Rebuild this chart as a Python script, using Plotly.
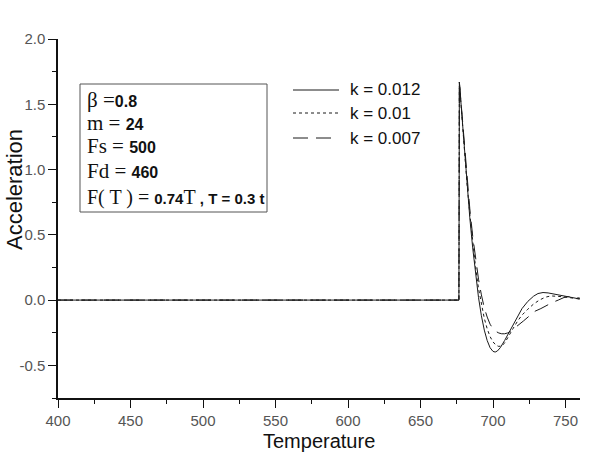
import plotly.graph_objects as go

# ---- data ----
t_k012 = [400, 676.5, 676.8, 678, 680, 682, 684, 686, 688, 690, 692, 694, 696, 698, 700, 701.5, 703, 705, 708, 711, 714, 717, 720, 724, 728, 731, 734.5, 738, 742, 746, 750, 755, 760]
a_k012 = [0, 0, 1.67, 1.49, 1.17, 0.88, 0.63, 0.40, 0.19, 0.02, -0.12, -0.23, -0.31, -0.365, -0.393, -0.398, -0.39, -0.365, -0.31, -0.25, -0.185, -0.12, -0.065, -0.01, 0.03, 0.05, 0.058, 0.055, 0.046, 0.037, 0.028, 0.017, 0.008]

t_k010 = [400, 676.5, 676.8, 678, 680, 682, 684, 686, 688, 690, 692, 694, 696, 698, 700, 702, 704, 706, 708, 710, 712, 714, 717, 720, 724, 728, 732, 736, 740, 744, 748, 752, 756, 760]
a_k010 = [0, 0, 1.67, 1.49, 1.18, 0.90, 0.66, 0.44, 0.25, 0.09, -0.04, -0.14, -0.22, -0.28, -0.32, -0.345, -0.355, -0.35, -0.33, -0.295, -0.255, -0.215, -0.16, -0.115, -0.07, -0.03, 0.0, 0.022, 0.032, 0.031, 0.026, 0.02, 0.013, 0.008]

t_k007 = [400, 676.5, 676.8, 678, 680, 682, 684, 686, 688, 690, 692, 694, 696, 698, 700, 702, 704, 706, 708, 710, 712, 715, 718, 721, 725, 729, 733, 737, 741, 745, 749, 752, 756, 760]
a_k007 = [0, 0, 1.67, 1.50, 1.20, 0.93, 0.70, 0.49, 0.31, 0.16, 0.04, -0.06, -0.13, -0.185, -0.22, -0.24, -0.252, -0.258, -0.258, -0.252, -0.24, -0.215, -0.19, -0.16, -0.122, -0.085, -0.065, -0.04, -0.018, 0.0, 0.02, 0.027, 0.024, 0.014]

series_names = ["k = 0.012", "k = 0.01", "k = 0.007"]
series_dash = ["solid", "3px,3px", "15px,8px"]

x_ticks = [400, 450, 500, 550, 600, 650, 700, 750]
y_ticks = [-0.5, 0.0, 0.5, 1.0, 1.5, 2.0]
y_tick_labels = ["-0.5", "0.0", "0.5", "1.0", "1.5", "2.0"]

params = [
    ("β =", "0.8", ""),
    ("m = ", "24", ""),
    ("Fs = ", "500", ""),
    ("Fd = ", "460", ""),
    ("F( T ) = ", "0.74", "T"),
]

LINE = "#1a1a1a"
SERIF = "Liberation Serif, Times New Roman, serif"
SANS = "Liberation Sans, Arial, sans-serif"

fig = go.Figure()
data = [(t_k007, a_k007, 2), (t_k010, a_k010, 1), (t_k012, a_k012, 0)]
for t, a, i in data:
    fig.add_trace(go.Scatter(x=t, y=a, mode="lines", name=series_names[i],
                             line=dict(color=LINE, width=1, dash=series_dash[i]),
                             showlegend=False))

W, H = 616, 453
L, R, T, B = 58, 36, 39, 55
pw, ph = W - L - R, H - T - B

def px(x):
    return (x - L) / pw

def py(y):
    return (H - B - y) / ph

fig.update_layout(
    width=W, height=H,
    margin=dict(l=L, r=R, t=T, b=B),
    paper_bgcolor="white", plot_bgcolor="white",
    font=dict(family=SANS, color="#444"),
    xaxis=dict(range=[400, 760], tickvals=x_ticks, ticks="outside", ticklen=8, tickwidth=1.3,
               tickcolor="#111", showline=True, linecolor="#111", linewidth=1.5,
               showgrid=False, zeroline=False, tickfont=dict(size=15, color="#555"),
               minor=dict(dtick=25, tick0=400, ticks="outside", ticklen=4, tickcolor="#111", tickwidth=1.3)),
    yaxis=dict(range=[-0.75, 2.0], tickvals=y_ticks, ticktext=y_tick_labels, ticks="outside",
               ticklen=8, tickwidth=1.3, tickcolor="#111", showline=True, linecolor="#111",
               linewidth=1.5, showgrid=False, zeroline=False, tickfont=dict(size=15, color="#555"),
               minor=dict(dtick=0.25, tick0=0, ticks="outside", ticklen=4, tickcolor="#111", tickwidth=1.3)),
)

annotations = []
shapes = []
# axis titles
annotations.append(dict(text="Temperature", x=px(319), y=py(441), xref="paper", yref="paper",
                        showarrow=False, font=dict(size=20, color="#111", family=SANS),
                        xanchor="center", yanchor="middle"))
annotations.append(dict(text="Acceleration", x=px(14), y=py(190), xref="paper", yref="paper",
                        showarrow=False, textangle=-90, font=dict(size=22, color="#111", family=SANS),
                        xanchor="center", yanchor="middle"))

# parameter box
shapes.append(dict(type="rect", xref="paper", yref="paper", x0=px(80), x1=px(267), y0=py(212), y1=py(84),
                   line=dict(color="#555", width=1), fillcolor="rgba(0,0,0,0)"))
row_y = [100, 123, 146, 171, 197]
for (s, b, s2), yy in zip(params, row_y):
    if s2:
        txt = (f'<span style="font-family:{SERIF};font-size:20px">{s}</span><b style="font-size:15px">{b}</b>'
               f'<span style="font-family:{SERIF};font-size:20px">{s2}</span><b style="font-size:15px"> , T = 0.3 t</b>')
    else:
        txt = f'<span style="font-family:{SERIF};font-size:21px">{s}</span><b style="font-size:16px">{b}</b>'
    annotations.append(dict(text=txt, x=px(85), y=py(yy), xref="paper", yref="paper", showarrow=False,
                            xanchor="left", yanchor="middle", align="left",
                            font=dict(size=16, color="#111", family=SANS)))

# legend (drawn manually to match sample length)
leg_y = [90, 113, 138]
for i, yy in enumerate(leg_y):
    shapes.append(dict(type="line", xref="paper", yref="paper", x0=px(293), x1=px(339), y0=py(yy), y1=py(yy),
                       line=dict(color=LINE, width=1, dash=series_dash[i])))
    annotations.append(dict(text=series_names[i], x=px(348), y=py(yy), xref="paper", yref="paper",
                            showarrow=False, xanchor="left", yanchor="middle",
                            font=dict(size=17, color="#111", family=SANS)))

fig.update_layout(annotations=annotations, shapes=shapes)
fig.write_html("out.html")
